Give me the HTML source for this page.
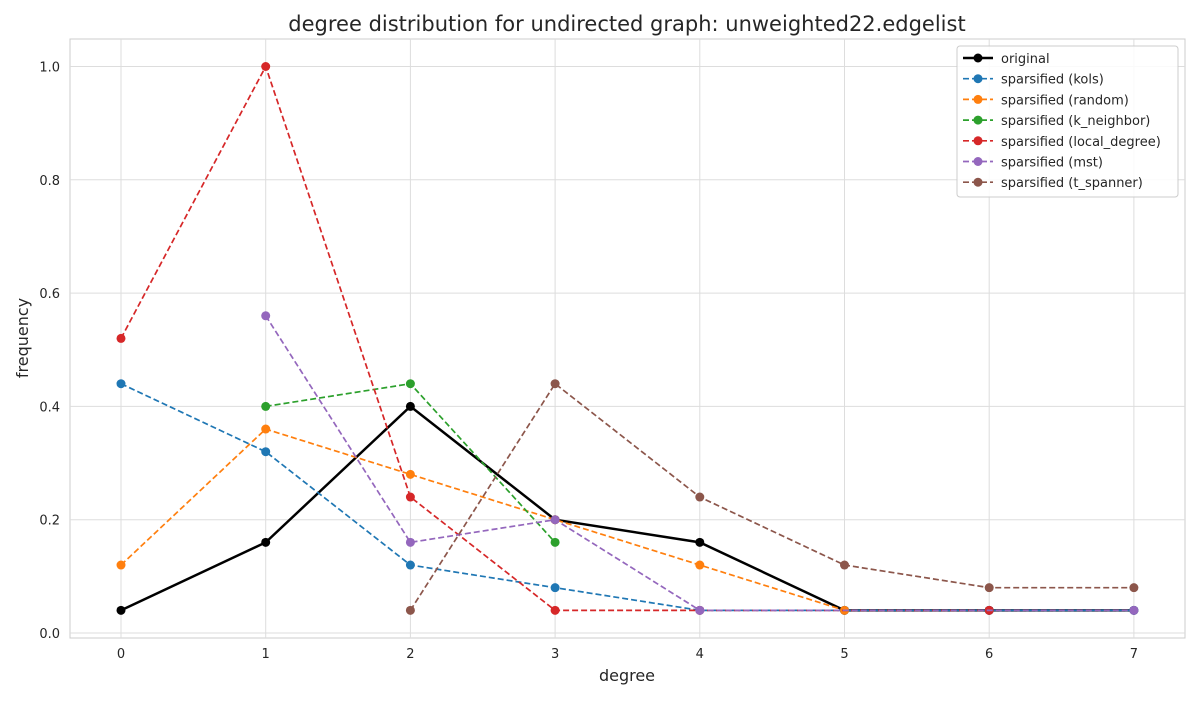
<!DOCTYPE html>
<html><head><meta charset="utf-8"><style>
body{margin:0;background:#fff;font-family:"Liberation Sans","DejaVu Sans",sans-serif;}
</style></head><body>
<svg id="chart" width="1200" height="700" xmlns="http://www.w3.org/2000/svg" font-family="DejaVu Sans, Liberation Sans, sans-serif">
<rect width="1200" height="700" fill="#fff"/>
<text x="627" y="31" text-anchor="middle" font-size="21" fill="#262626">degree distribution for undirected graph: unweighted22.edgelist</text>
<rect x="70" y="39" width="1115" height="599" fill="#fff" stroke="#cccccc"/>
<g id="grid"></g><g id="series"></g>
<text x="627" y="681" text-anchor="middle" font-size="16" fill="#262626">degree</text>
<text transform="translate(28,338) rotate(-90)" text-anchor="middle" font-size="16" fill="#262626">frequency</text>
<g id="legend"></g>
</svg>
<script>
const xTicks=[0,1,2,3,4,5,6,7];
const yTicks=[0,0.2,0.4,0.6,0.8,1.0];
const yTickLabels=["0.0","0.2","0.4","0.6","0.8","1.0"];
const seriesNames=["original","sparsified (kols)","sparsified (random)","sparsified (k_neighbor)","sparsified (local_degree)","sparsified (mst)","sparsified (t_spanner)"];
const seriesColors=["#000000","#1f77b4","#ff7f0e","#2ca02c","#d62728","#9467bd","#8c564b"];
const originalX=[0,1,2,3,4,5,6,7];
const originalY=[0.04,0.16,0.4,0.2,0.16,0.04,0.04,0.04];
const kolsX=[0,1,2,3,4,5,6,7];
const kolsY=[0.44,0.32,0.12,0.08,0.04,0.04,0.04,0.04];
const randomX=[0,1,2,3,4,5];
const randomY=[0.12,0.36,0.28,0.2,0.12,0.04];
const kNeighborX=[1,2,3];
const kNeighborY=[0.4,0.44,0.16];
const localDegreeX=[0,1,2,3,4,6];
const localDegreeY=[0.52,1.0,0.24,0.04,0.04,0.04];
const mstX=[1,2,3,4,7];
const mstY=[0.56,0.16,0.2,0.04,0.04];
const tSpannerX=[2,3,4,5,6,7];
const tSpannerY=[0.04,0.44,0.24,0.12,0.08,0.08];
const allX=[originalX,kolsX,randomX,kNeighborX,localDegreeX,mstX,tSpannerX];
const allY=[originalY,kolsY,randomY,kNeighborY,localDegreeY,mstY,tSpannerY];
const NS="http://www.w3.org/2000/svg";
const sx=v=>121+v*144.7;
const sy=v=>633-v*566.5;
function mk(tag,attrs,parent){const e=document.createElementNS(NS,tag);for(const k in attrs)e.setAttribute(k,attrs[k]);parent.appendChild(e);return e;}
const grid=document.getElementById('grid');
xTicks.forEach(t=>{
 const l=mk('line',{x1:sx(t),x2:sx(t),y1:39,y2:638,stroke:'#dddddd'},grid);
 
 
 const tx=mk('text',{x:sx(t),y:658,'text-anchor':'middle','font-size':13,fill:'#262626'},grid);tx.textContent=t;
 
 
});
yTicks.forEach((t,i)=>{
 const l=mk('line',{x1:70,x2:1185,y1:sy(t),y2:sy(t),stroke:'#dddddd'},grid);
 
 
 const tx=mk('text',{x:60,y:sy(t)+5,'text-anchor':'end','font-size':13,fill:'#262626'},grid);tx.textContent=yTickLabels[i];
 
 
});
const sg=document.getElementById('series');
for(let s=0;s<allX.length;s++){
 const g=mk('g',{},sg);
 
 
 const pts=allX[s].map((x,i)=>sx(x)+','+sy(allY[s][i])).join(' ');
 mk('polyline',{points:pts,fill:'none',stroke:seriesColors[s],'stroke-width':s===0?2.5:1.7,'stroke-dasharray':s===0?'none':'6,3'},g);
 allX[s].forEach((x,i)=>{
  const c=mk('circle',{cx:sx(x),cy:sy(allY[s][i]),r:4.5,fill:seriesColors[s]},g);
  
  
 });
}
const lg=document.getElementById('legend');
const box=mk('rect',{x:957,y:46,width:221,height:151,rx:3,fill:'#fff','fill-opacity':0.85,stroke:'#cccccc'},lg);


seriesNames.forEach((n,i)=>{
 const y=58+i*20.7;
 const g=mk('g',{},lg);
 
 
 mk('line',{x1:963,x2:993,y1:y,y2:y,stroke:seriesColors[i],'stroke-width':i===0?2.5:1.7,'stroke-dasharray':i===0?'none':'6,3'},g);
 mk('circle',{cx:978,cy:y,r:4.5,fill:seriesColors[i]},g);
 const t=mk('text',{x:1001,y:y+5,'font-size':13,fill:'#262626'},g);t.textContent=n;
});
</script>
</body></html>
